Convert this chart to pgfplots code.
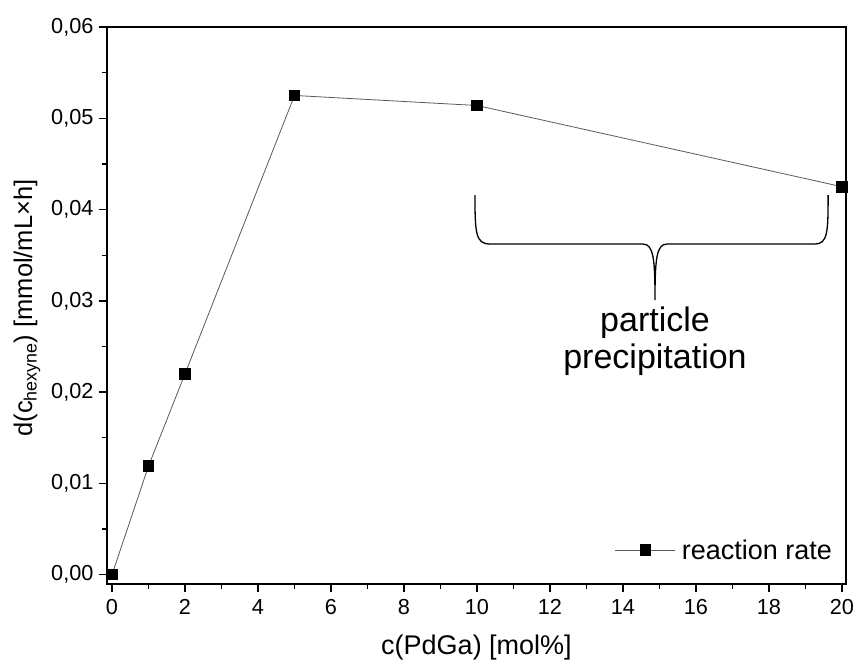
\documentclass[border=0pt]{standalone}
\usepackage{pgfplots}
\pgfplotsset{compat=1.18}
\usepackage{fontspec}
\setmainfont{Liberation Sans}
\begin{document}
\begin{tikzpicture}
\begin{axis}[
 at={(0pt,0pt)}, anchor=south west,
 scale only axis, width=739pt, height=557pt,
 xmin=-0.137, xmax=20.11, ymin=-0.00102, ymax=0.06,
 xtick={0,2,4,6,8,10,12,14,16,18,20},
 ytick={0,0.01,0.02,0.03,0.04,0.05,0.06},
 minor x tick num=1, minor y tick num=1,
 tick pos=left, tick align=outside,
 major tick length=8pt, minor tick length=5pt,
 axis line style={line width=1.4pt},
 every tick/.style={line width=1.4pt, black},
 /pgf/number format/assume math mode=true,
 scaled y ticks=false,
 yticklabel style={/pgf/number format/.cd, fixed, fixed zerofill, precision=2, use comma, /tikz/.cd, xshift=-2pt},
 xticklabel style={yshift=-4pt},
 ticklabel style={font=\fontsize{21.7}{24}\selectfont},
 xlabel={c(PdGa) [mol\%]},
 ylabel={d(c\textsubscript{hexyne}) [mmol/mL×h]},
 every axis x label/.style={at={(axis description cs:0.5,-0.1149)}, anchor=center, font=\fontsize{27}{30}\selectfont},
 every axis y label/.style={at={(axis description cs:-0.10825,0.4955)}, anchor=center, rotate=90, font=\fontsize{25.5}{28}\selectfont},
 legend style={at={(rel axis cs:0.984,0.061)}, anchor=east, draw=none, fill=none,
   font=\fontsize{27}{30}\selectfont, inner sep=0pt},
 legend image code/.code={\draw[#1, mark=none] (0pt,0pt) -- (60pt,0pt);
   \draw[mark repeat=2,mark phase=2,#1, draw=none] plot coordinates {(0pt,0pt) (30pt,0pt) (60pt,0pt)};
   \path (64pt,0pt);},
]
\addplot[black!65, line width=0.8pt, mark=square*, mark size=5.3pt, mark options={black, draw=black, fill=black, line width=0pt}]
 coordinates {(0,0) (1,0.0119) (2,0.0220) (5,0.0525) (10,0.0514) (20,0.0425)};
\addlegendentry{reaction rate}
\draw[line width=1.3pt, black] (axis cs:9.945,0.04157) .. controls (axis cs:9.945,0.0375) and (axis cs:9.96,0.03622) .. (axis cs:10.35,0.03622)
  -- (axis cs:14.55,0.03622) .. controls (axis cs:14.84,0.03622) and (axis cs:14.877,0.0345) .. (axis cs:14.877,0.03009)
  .. controls (axis cs:14.877,0.0345) and (axis cs:14.914,0.03622) .. (axis cs:15.2,0.03622)
  -- (axis cs:19.25,0.03622) .. controls (axis cs:19.61,0.03622) and (axis cs:19.62,0.0375) .. (axis cs:19.62,0.04157);
\node[align=center, font=\fontsize{34}{37}\selectfont] at (axis cs:14.877,0.0256) {particle\\precipitation};
\end{axis}
\pgfresetboundingbox
\path[use as bounding box] (-107pt,-82pt) rectangle (749pt,584pt);
\end{tikzpicture}
\end{document}
